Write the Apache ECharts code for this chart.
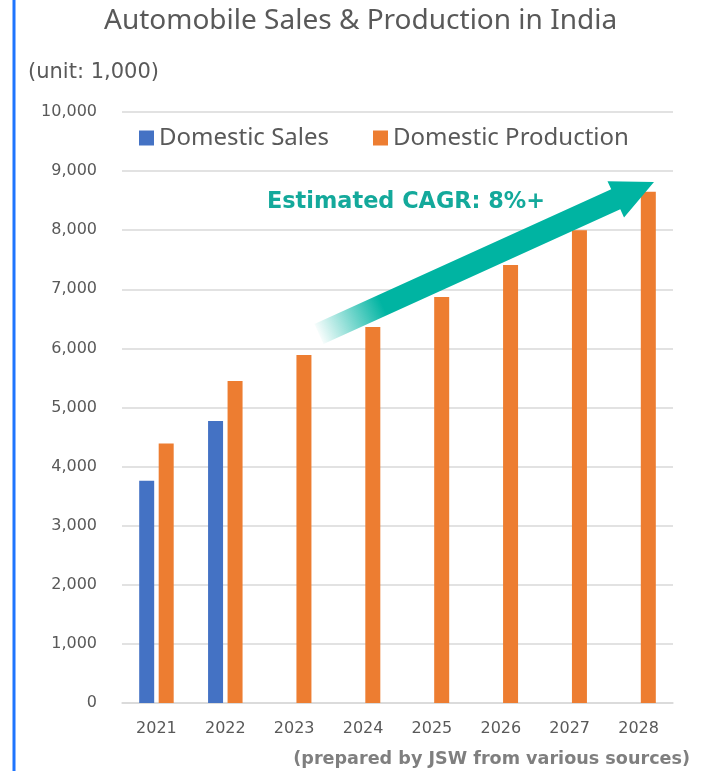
<!DOCTYPE html>
<html>
<head>
<meta charset="utf-8">
<script src="https://cdn.jsdelivr.net/npm/echarts@6/dist/echarts.min.js"></script>
<style>
  html, body { margin: 0; padding: 0; background: #fff; }
  #chart { width: 710px; height: 771px; }
</style>
</head>
<body>
<div id="chart"></div>
<script>
const years = ["2021", "2022", "2023", "2024", "2025", "2026", "2027", "2028"];
const domesticSales = [3760, 4770, null, null, null, null, null, null];
const domesticProduction = [4390, 5450, 5890, 6360, 6870, 7410, 8000, 8650];
const yTicks = { min: 0, max: 10000, interval: 1000 };

const nf = new Intl.NumberFormat("en-US");
const grey = "#595959";
const font = "'Noto Sans', 'Open Sans', sans-serif";
const wide = "'DejaVu Sans', Verdana, sans-serif";

const chart = echarts.init(document.querySelector("#chart"));

// arrow drawn as a polygon, tail fades out
const tail = [319, 334], tip = [654, 182];
function arrowPoints() {
  const dx = tip[0] - tail[0], dy = tip[1] - tail[1];
  const len = Math.hypot(dx, dy);
  const u = [dx / len, dy / len], n = [-u[1], u[0]];
  const base = [tip[0] - 42 * u[0], tip[1] - 42 * u[1]];
  const off = (p, k) => [p[0] + k * n[0], p[1] + k * n[1]];
  return [off(tail, -11), off(base, -11), off(base, -20), tip, off(base, 20), off(base, 11), off(tail, 11)];
}

chart.setOption({
  animation: false,
  title: {
    text: "Automobile Sales & Production in India",
    left: 99,
    top: 2,
    textStyle: { fontFamily: font, fontSize: 28, fontWeight: "normal", color: grey },
  },
  legend: {
    top: 121,
    left: 134,
    itemWidth: 15,
    itemHeight: 15,
    itemGap: 44,
    icon: "rect",
    textStyle: { fontFamily: font, fontSize: 24, color: grey },
    data: ["Domestic Sales", "Domestic Production"],
  },
  grid: { left: 122, right: 37, top: 112, bottom: 68 },
  xAxis: {
    type: "category",
    data: years,
    axisLine: { lineStyle: { color: "#d9d9d9", width: 1.5 } },
    axisTick: { show: false },
    axisLabel: { fontFamily: wide, fontSize: 16, color: grey, margin: 18 },
  },
  yAxis: {
    type: "value",
    min: yTicks.min,
    max: yTicks.max,
    interval: yTicks.interval,
    axisLine: { show: false },
    axisTick: { show: false },
    axisLabel: { fontFamily: wide, fontSize: 16, color: grey, margin: 25, formatter: (v) => nf.format(v) },
    splitLine: { lineStyle: { color: "#d9d9d9", width: 1.5 } },
  },
  series: [
    {
      name: "Domestic Sales",
      type: "bar",
      data: domesticSales,
      barWidth: 15,
      barGap: "30%",
      itemStyle: { color: "#4472c4" },
    },
    {
      name: "Domestic Production",
      type: "bar",
      data: domesticProduction,
      barWidth: 15,
      itemStyle: { color: "#ed7d31" },
    },
  ],
  graphic: [
    {
      type: "line",
      shape: { x1: 14, y1: 0, x2: 14, y2: 771 },
      style: { stroke: "#1f75fe", lineWidth: 3 },
    },
    {
      type: "text",
      left: 28,
      top: 62,
      style: { text: "(unit: 1,000)", fontFamily: wide, fontSize: 21, fill: grey },
    },
    {
      type: "polygon",
      z: 50,
      shape: { points: arrowPoints() },
      style: {
        fill: {
          type: "linear",
          x: tail[0], y: tail[1], x2: tip[0], y2: tip[1],
          global: true,
          colorStops: [
            { offset: 0, color: "rgba(0,180,162,0.03)" },
            { offset: 0.19, color: "rgba(0,180,162,1)" },
            { offset: 1, color: "rgba(0,180,162,1)" },
          ],
        },
      },
    },
    {
      type: "text",
      z: 50,
      left: 267,
      top: 191,
      style: { text: "Estimated CAGR: 8%+", fontFamily: wide, fontSize: 22.4, fontWeight: "bold", fill: "#14a99b" },
    },
    {
      type: "text",
      right: 20,
      top: 750,
      style: { text: "(prepared by JSW from various sources)", fontFamily: wide, fontSize: 17.6, fontWeight: "bold", fill: "#7f7f7f" },
    },
  ],
});
</script>
</body>
</html>
